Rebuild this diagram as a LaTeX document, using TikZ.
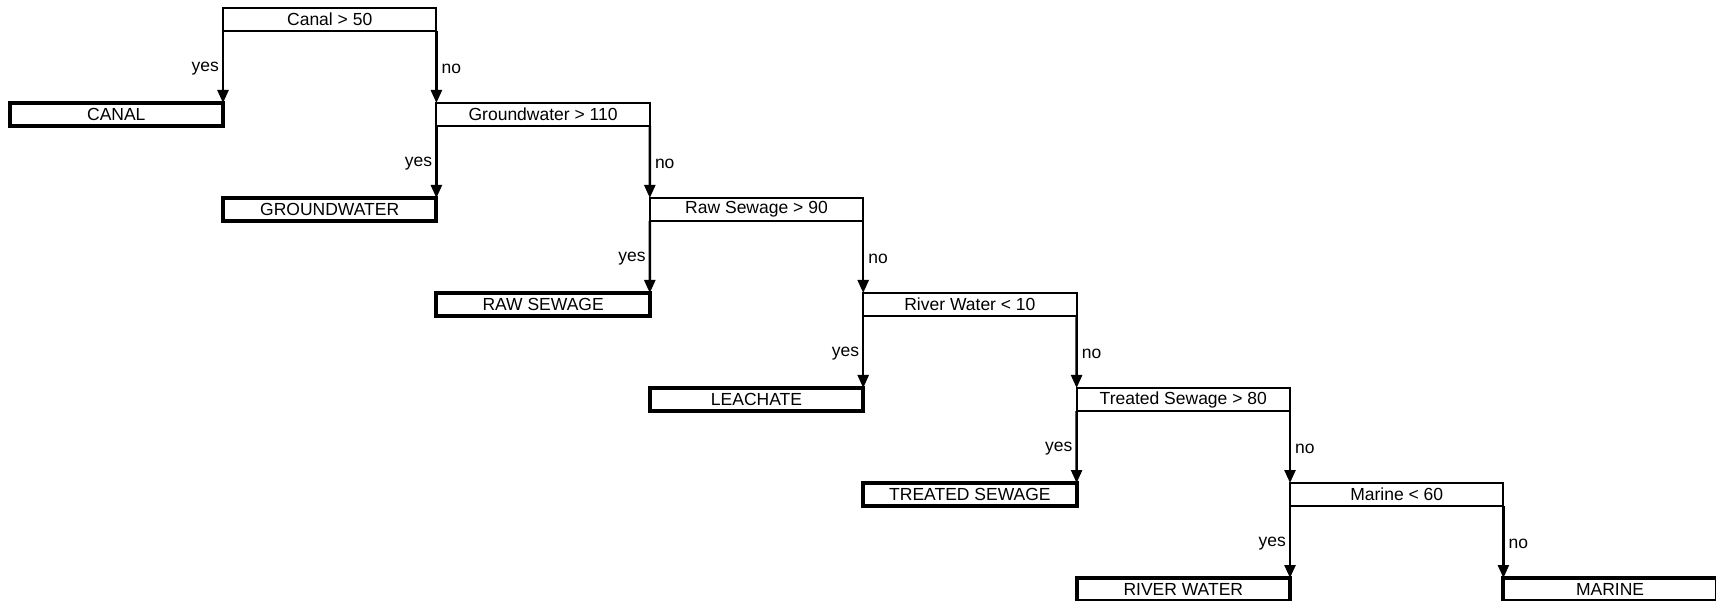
\documentclass[tikz,border=0pt]{standalone}
\usepackage{fontspec}
\setmainfont{Liberation Sans}
\usetikzlibrary{arrows.meta}
\begin{document}
\begin{tikzpicture}[x=1pt,y=-1pt,
  box/.style={draw, minimum width=213.4pt, minimum height=23pt, inner sep=0pt, outer sep=0pt,
    anchor=north west, font=\fontsize{17.5}{20}\selectfont},
  decbox/.style={box, line width=2pt},
  leafbox/.style={box, line width=4pt},
  arr/.style={line width=2.4pt, -{Triangle[width=11pt,length=13pt]}},
  lbl/.style={font=\fontsize{17.5}{20}\selectfont, inner sep=0pt, yshift=-2pt},
  yeslbl/.style={lbl, anchor=east, xshift=-3pt},
  nolbl/.style={lbl, anchor=west, xshift=4pt}]
\useasboundingbox (0,0) rectangle (1716,601);
% decision boxes
\node[decbox] (d0) at (223.0,8)   {Canal > 50};
\node[decbox] (d1) at (436.4,103) {Groundwater > 110};
\node[decbox] (d2) at (649.8,198) {Raw Sewage > 90};
\node[decbox] (d3) at (863.2,293) {River Water < 10};
\node[decbox] (d4) at (1076.6,388) {Treated Sewage > 80};
\node[decbox] (d5) at (1290.0,483) {Marine < 60};
% leaf boxes
\node[leafbox] (l0) at (9.6,103)  {CANAL};
\node[leafbox] (l1) at (223.0,198) {GROUNDWATER};
\node[leafbox] (l2) at (436.4,293) {RAW SEWAGE};
\node[leafbox] (l3) at (649.8,388) {LEACHATE};
\node[leafbox] (l4) at (863.2,483) {TREATED SEWAGE};
\node[leafbox] (l5) at (1076.6,578) {RIVER WATER};
\node[leafbox] (l6) at (1503.4,578) {MARINE};
% connectors
\draw[arr] (d0.south west) -- node[yeslbl]{yes} (l0.north east);
\draw[arr] (d0.south east) -- node[nolbl]{no} (d1.north west);
\draw[arr] (d1.south west) -- node[yeslbl]{yes} (l1.north east);
\draw[arr] (d1.south east) -- node[nolbl]{no} (d2.north west);
\draw[arr] (d2.south west) -- node[yeslbl]{yes} (l2.north east);
\draw[arr] (d2.south east) -- node[nolbl]{no} (d3.north west);
\draw[arr] (d3.south west) -- node[yeslbl]{yes} (l3.north east);
\draw[arr] (d3.south east) -- node[nolbl]{no} (d4.north west);
\draw[arr] (d4.south west) -- node[yeslbl]{yes} (l4.north east);
\draw[arr] (d4.south east) -- node[nolbl]{no} (d5.north west);
\draw[arr] (d5.south west) -- node[yeslbl]{yes} (l5.north east);
\draw[arr] (d5.south east) -- node[nolbl]{no} (l6.north west);
\end{tikzpicture}
\end{document}
